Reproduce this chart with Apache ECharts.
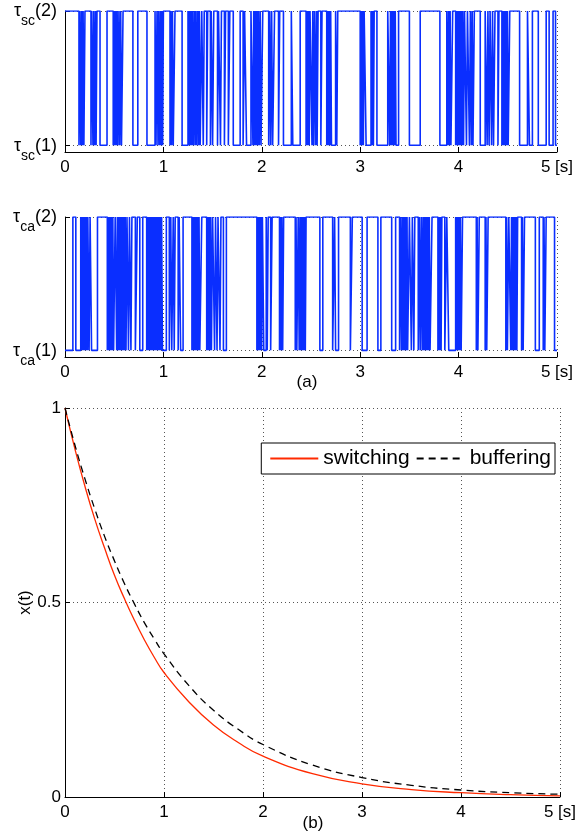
<!DOCTYPE html>
<html>
<head>
<meta charset="utf-8">
<title>switching vs buffering</title>
<script src="https://cdn.jsdelivr.net/npm/echarts/dist/echarts.min.js"></script>
<style>
  html, body { margin: 0; padding: 0; background: #fff; }
  #main { width: 579px; height: 837px; }
</style>
</head>
<body>
<div id="main"></div>
<script>
// intervals [start, end] in seconds where the delay sits at level (1); otherwise level (2)
const scLow = [
  [0.142,0.150],[0.160,0.168],[0.176,0.184],[0.192,0.203],
  [0.264,0.272],[0.284,0.292],[0.300,0.310],[0.316,0.325],
  [0.356,0.427],
  [0.490,0.498],[0.506,0.514],[0.522,0.530],[0.538,0.548],[0.556,0.566],[0.574,0.590],
  [0.690,0.740],
  [0.833,0.915],
  [0.925,0.935],[0.945,0.952],[0.962,0.970],[0.978,0.986],[0.992,1.000],
  [1.067,1.075],[1.083,1.092],[1.100,1.118],
  [1.190,1.250],[1.258,1.266],[1.274,1.282],[1.290,1.298],[1.306,1.316],[1.324,1.332],[1.340,1.350],[1.358,1.366],[1.374,1.390],
  [1.405,1.415],[1.440,1.450],[1.478,1.486],[1.500,1.512],[1.550,1.560],[1.580,1.590],[1.620,1.632],[1.660,1.675],
  [1.710,1.780],
  [1.810,1.825],[1.845,1.890],
  [1.910,1.918],[1.926,1.934],[1.942,1.950],[1.958,1.966],[1.974,1.984],[1.992,2.010],
  [2.070,2.080],[2.090,2.100],[2.110,2.130],
  [2.170,2.182],
  [2.220,2.300],[2.315,2.390],
  [2.450,2.458],[2.466,2.474],[2.482,2.490],
  [2.510,2.518],[2.526,2.536],[2.546,2.556],[2.562,2.572],
  [2.600,2.612],
  [2.660,2.668],[2.676,2.684],[2.692,2.700],[2.708,2.750],
  [2.762,2.772],
  [3.000,3.008],[3.016,3.024],[3.032,3.040],
  [3.060,3.110],[3.118,3.126],[3.134,3.142],
  [3.170,3.280],
  [3.300,3.308],[3.316,3.324],[3.332,3.340],[3.348,3.356],[3.364,3.390],
  [3.500,3.610],
  [3.810,3.880],
  [3.890,3.898],[3.906,3.914],[3.922,3.940],
  [3.970,3.978],[3.986,3.994],[4.002,4.010],[4.018,4.026],[4.034,4.042],[4.050,4.060],
  [4.080,4.090],[4.110,4.120],[4.130,4.138],[4.146,4.160],
  [4.220,4.270],
  [4.290,4.298],[4.310,4.320],[4.335,4.345],[4.355,4.370],
  [4.400,4.410],
  [4.440,4.448],[4.456,4.464],[4.472,4.480],[4.488,4.496],[4.504,4.520],
  [4.620,4.700],
  [4.720,4.750],
  [4.810,4.890],
  [4.920,4.960],
  [4.985,5.000]
];

const caLow = [
  [0.000,0.080],
  [0.110,0.160],[0.168,0.176],[0.184,0.192],[0.200,0.208],[0.216,0.222],[0.228,0.232],
  [0.245,0.255],
  [0.270,0.330],
  [0.430,0.438],[0.446,0.454],[0.462,0.470],[0.478,0.486],[0.494,0.510],
  [0.525,0.532],
  [0.540,0.548],[0.556,0.564],[0.572,0.580],[0.588,0.596],[0.604,0.612],[0.620,0.630],
  [0.645,0.655],[0.670,0.680],
  [0.715,0.735],
  [0.760,0.790],
  [0.830,0.838],[0.846,0.854],[0.862,0.870],[0.878,0.886],[0.894,0.902],[0.910,0.918],[0.926,0.934],[0.942,0.950],[0.958,0.966],[0.974,0.982],[0.990,1.030],
  [1.060,1.075],
  [1.085,1.100],[1.110,1.120],
  [1.150,1.160],[1.175,1.200],
  [1.290,1.298],[1.306,1.314],[1.322,1.330],[1.338,1.346],[1.354,1.362],[1.370,1.390],
  [1.440,1.448],[1.456,1.464],[1.472,1.480],[1.488,1.500],
  [1.520,1.530],[1.545,1.555],[1.575,1.585],
  [1.610,1.640],
  [1.950,1.958],[1.966,1.974],[1.982,1.990],[1.998,2.006],
  [2.020,2.045],[2.055,2.065],[2.090,2.105],
  [2.180,2.188],[2.196,2.204],[2.212,2.222],
  [2.340,2.348],[2.356,2.370],
  [2.380,2.388],[2.396,2.404],[2.412,2.420],[2.428,2.436],[2.442,2.450],
  [2.590,2.620],
  [2.720,2.740],[2.750,2.780],
  [2.900,2.920],
  [3.020,3.070],
  [3.180,3.210],
  [3.320,3.360],
  [3.400,3.410],
  [3.420,3.428],[3.436,3.444],[3.452,3.460],[3.468,3.476],[3.482,3.500],
  [3.520,3.530],[3.545,3.555],
  [3.590,3.600],[3.610,3.620],
  [3.630,3.638],[3.646,3.654],[3.662,3.670],[3.678,3.686],[3.694,3.702],[3.710,3.730],
  [3.790,3.798],[3.806,3.814],[3.822,3.830],
  [3.860,3.880],
  [3.900,3.970],
  [3.978,3.986],[3.994,4.002],[4.010,4.018],[4.026,4.040],
  [4.180,4.188],[4.196,4.210],
  [4.270,4.278],[4.286,4.300],
  [4.480,4.488],[4.496,4.510],
  [4.530,4.538],[4.546,4.554],[4.562,4.570],[4.578,4.586],[4.592,4.600],
  [4.640,4.648],[4.656,4.670],
  [4.780,4.820],
  [4.860,4.868],[4.876,4.890],
  [4.975,5.000]
];

// state trajectories (b)
const tSamples   = [0, 0.1, 0.2, 0.3, 0.4, 0.5, 0.6, 0.7, 0.8, 0.9, 1.0, 1.25, 1.5, 1.75, 2.0, 2.5, 3.0, 3.5, 4.0, 4.5, 5.0];
const xSwitching = [1, 0.895, 0.80, 0.715, 0.64, 0.57, 0.51, 0.455, 0.405, 0.36, 0.32, 0.245, 0.185, 0.14, 0.105, 0.06, 0.034, 0.019, 0.011, 0.006, 0.003];
const xBuffering = [1, 0.905, 0.819, 0.741, 0.670, 0.607, 0.549, 0.497, 0.449, 0.407, 0.368, 0.287, 0.223, 0.174, 0.135, 0.082, 0.050, 0.030, 0.018, 0.011, 0.007];

const levelTicks = [1, 2];
const xTicksB = [0, 0.5, 1];

const FONT = 'Liberation Sans, Arial, Helvetica, sans-serif';
const BLUE = '#0a2eff';

// turn the low intervals into a stairs polyline
function stairs(lows) {
  const pts = [];
  let last = 2;
  if (lows.length && lows[0][0] > 0) pts.push([0, 2]);
  lows.forEach(function (iv) {
    if (iv[0] <= 0) {
      pts.push([0, 1]);
    } else {
      pts.push([iv[0], 2], [iv[0], 1]);
    }
    if (iv[1] >= 5) {
      pts.push([5, 1]);
      last = 1;
    } else {
      pts.push([iv[1], 1], [iv[1], 2]);
      last = 2;
    }
  });
  if (last === 2) pts.push([5, 2]);
  return pts;
}

function tauLabel(sub) {
  return function (v) {
    if (v === 1) return '{t|τ}{s|' + sub + '}{t|(1)}';
    if (v === 2) return '{t|τ}{s|' + sub + '}{t|(2)}';
    return '';
  };
}

const dotted = { show: true, lineStyle: { color: '#555', type: [1, 3], width: 1 } };
const axisLineBlack = { show: true, lineStyle: { color: '#000', width: 1 } };
const tickIn = { show: true, inside: true, length: 5, lineStyle: { color: '#000' } };

function timeAxis(gridIndex) {
  return {
    type: 'value', gridIndex: gridIndex, min: 0, max: 5, interval: 1,
    axisLine: axisLineBlack,
    axisTick: tickIn,
    splitLine: dotted,
    axisLabel: {
      color: '#000', fontSize: 17, fontFamily: FONT, margin: 7,
      formatter: function (v) { return v === 5 ? '5 [s]' : String(v); }
    }
  };
}

function levelAxis(gridIndex, sub) {
  return {
    type: 'value', gridIndex: gridIndex, min: 0.95, max: 2,
    axisLine: axisLineBlack,
    axisTick: Object.assign({}, tickIn, { customValues: levelTicks }),
    splitLine: dotted,
    axisLabel: {
      customValues: levelTicks,
      margin: 8,
      padding: [9, 0, 0, 0],
      formatter: tauLabel(sub),
      rich: {
        t: { fontSize: 18, fontFamily: FONT, color: '#000', verticalAlign: 'top', lineHeight: 26 },
        s: { fontSize: 14, fontFamily: FONT, color: '#000', verticalAlign: 'bottom', lineHeight: 26 }
      }
    }
  };
}

const chart = echarts.init(document.getElementById('main'), null, { renderer: 'canvas' });

const option = {
  animation: false,
  backgroundColor: '#fff',
  grid: [
    { left: 65, right: 22, top: 11, height: 141 },
    { left: 65, right: 22, top: 217, height: 140 },
    { left: 65, right: 17, top: 408, height: 389 }
  ],
  xAxis: [timeAxis(0), timeAxis(1), timeAxis(2)],
  yAxis: [
    levelAxis(0, 'sc'),
    levelAxis(1, 'ca'),
    {
      type: 'value', gridIndex: 2, min: 0, max: 1, interval: 0.5,
      name: 'x(t)', nameLocation: 'middle', nameRotate: 90, nameGap: 31,
      nameMoveOverlap: false,
      nameTextStyle: { color: '#000', fontSize: 17, fontFamily: FONT },
      axisLine: axisLineBlack,
      axisTick: tickIn,
      splitLine: dotted,
      axisLabel: { color: '#000', fontSize: 17, fontFamily: FONT, margin: 4,
        formatter: function (v) { return xTicksB.indexOf(v) >= 0 ? String(v) : ''; } }
    }
  ],
  legend: {
    data: ['switching', 'buffering'],
    right: 24, top: 443,
    backgroundColor: '#fff',
    borderColor: '#000', borderWidth: 1, borderRadius: 0,
    padding: [5, 4, 5, 8],
    itemWidth: 48, itemHeight: 14, itemGap: 6,
    itemStyle: { opacity: 0 },
    textStyle: { color: '#000', fontSize: 21, fontFamily: FONT }
  },
  graphic: [
    { type: 'text', x: 307, y: 382, style: { text: '(a)', fontSize: 17, fontFamily: FONT, fill: '#000', textAlign: 'center', textVerticalAlign: 'middle' } },
    { type: 'text', x: 313, y: 823, style: { text: '(b)', fontSize: 17, fontFamily: FONT, fill: '#000', textAlign: 'center', textVerticalAlign: 'middle' } }
  ],
  series: [
    {
      name: 'tau_sc', type: 'line', xAxisIndex: 0, yAxisIndex: 0,
      data: stairs(scLow), showSymbol: false, symbol: 'none',
      lineStyle: { color: BLUE, width: 1.6 }, silent: true
    },
    {
      name: 'tau_ca', type: 'line', xAxisIndex: 1, yAxisIndex: 1,
      data: stairs(caLow), showSymbol: false, symbol: 'none',
      lineStyle: { color: BLUE, width: 1.6 }, silent: true
    },
    {
      name: 'switching', type: 'line', xAxisIndex: 2, yAxisIndex: 2,
      data: tSamples.map(function (t, i) { return [t, xSwitching[i]]; }),
      smooth: true, symbol: 'none', color: '#ff2a00',
      lineStyle: { color: '#ff2a00', width: 1.3 }
    },
    {
      name: 'buffering', type: 'line', xAxisIndex: 2, yAxisIndex: 2,
      data: tSamples.map(function (t, i) { return [t, xBuffering[i]]; }),
      smooth: true, symbol: 'none', color: '#000',
      lineStyle: { color: '#000', width: 1.3, type: [7, 5] }
    }
  ]
};

chart.setOption(option);
</script>
</body>
</html>
